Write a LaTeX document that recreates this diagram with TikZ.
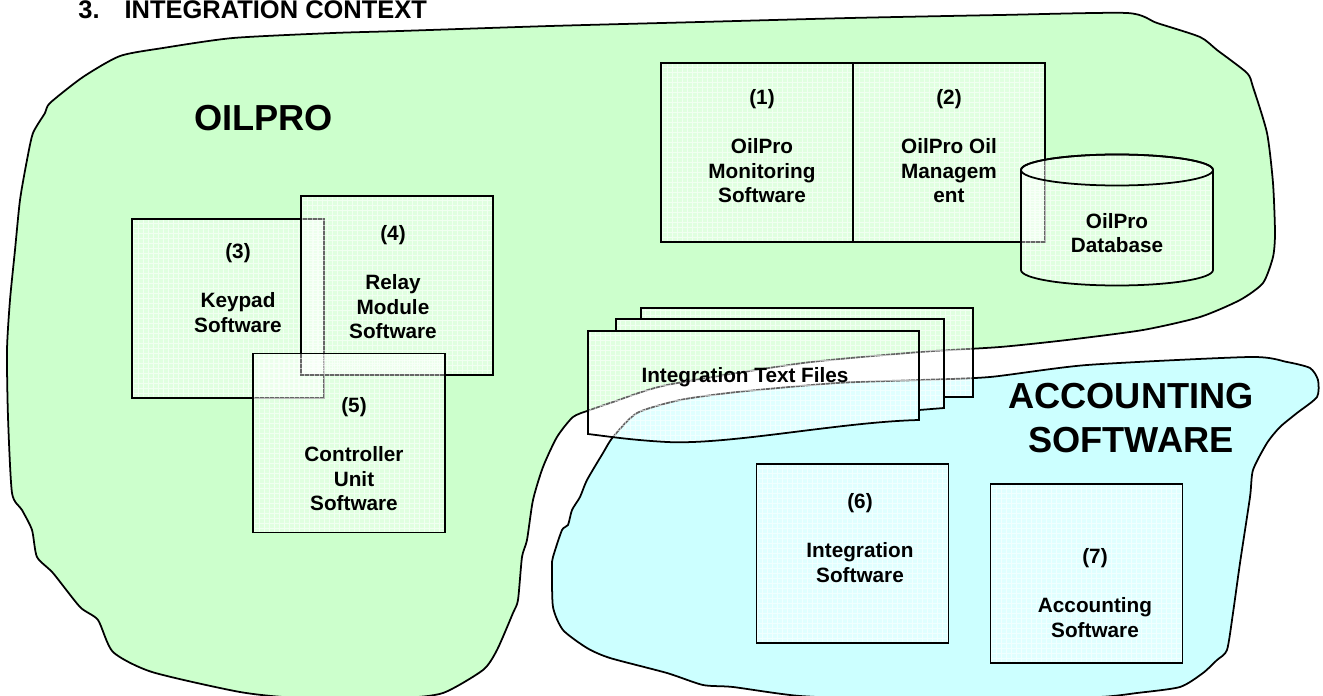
\documentclass[tikz,border=0pt]{standalone}
\usepackage{fontspec}
\setmainfont{Liberation Sans}
\usetikzlibrary{positioning}
\definecolor{oilgreen}{HTML}{CCFFCC}
\definecolor{acccyan}{HTML}{CCFFFF}
\tikzset{
  blob/.style={draw=black, line width=1pt},
  gridtex/.style={path picture={
      \draw[white, opacity=.55, line width=.25pt]
        (path picture bounding box.south west) grid[step=.1cm]
        (path picture bounding box.north east);
    }},
  sheet/.style={draw=black, line width=1pt, fill=white, fill opacity=.4, gridtex},
  swbox/.style={sheet, rectangle, inner sep=0pt,
    minimum width=3.84cm, minimum height=3.58cm},
  lbl/.style={align=center, inner sep=0pt, anchor=north,
    font=\fontsize{11.8}{14}\selectfont\bfseries},
  region/.style={align=center, inner sep=0pt, anchor=north,
    font=\fontsize{20.6}{25}\selectfont\bfseries}
}
\begin{document}
\begin{tikzpicture}[x=0.02cm, y=-0.02cm]
  \useasboundingbox (0,0) rectangle (1323,696);

  % OILPRO area
  \filldraw[blob, fill=oilgreen] plot[smooth cycle, tension=.4] coordinates {
    (120,56) (163,48) (233,38) (333,33) (400,31) (550,26) (700,22) (850,18)
    (1000,15) (1127,13) (1157,23) (1200,37) (1217,50) (1247,73) (1253,87)
    (1267,133) (1273,183) (1275,233) (1273,257) (1263,283) (1240,300)
    (1200,317) (1143,330) (1067,340) (1000,347) (920,352) (803,363)
    (667,385) (613,402) (590,410) (573,417) (557,437) (543,467) (533,500)
    (527,540) (522,557) (518,600) (513,613) (497,650) (483,670) (443,693)
    (400,698) (300,698) (240,692) (152,672) (113,652) (98,620) (80,607)
    (53,573) (37,557) (32,530) (22,510) (12,493) (8,417) (7,350) (10,300)
    (15,250) (20,200) (27,160) (33,133) (45,113) (50,103) (83,77)};

  % accounting area
  \filldraw[blob, fill=acccyan] plot[smooth cycle, tension=.4] coordinates {
    (613,437) (637,413) (680,400) (737,392) (837,383) (920,380) (990,377)
    (1087,365) (1250,357) (1287,362) (1310,368) (1318,380) (1317,397)
    (1297,413) (1280,427) (1267,443) (1253,470) (1250,497) (1240,563)
    (1233,613) (1227,650) (1217,660) (1203,673) (1180,687) (1137,693)
    (1100,697) (1000,700) (900,700) (800,696) (733,687) (703,685) (667,673)
    (610,658) (587,648) (563,630) (553,607) (552,567) (553,557) (562,530)
    (568,525) (572,510) (580,497) (587,480) (603,453)};

  \node[anchor=base west, inner sep=0pt, font=\fontsize{14.5}{16}\selectfont\bfseries]
    (title) at (78,19) {3.\hspace{0.5cm}INTEGRATION CONTEXT};
  \node[region] (oilpro) at (263.5,105) {OILPRO};
  \node[region] (acct) at (1131,383) {ACCOUNTING\\SOFTWARE};

  % software boxes
  \node[swbox] (b1) at (757,152.5) {};
  \node[swbox] (b2) at (949,152.5) {};

  % database
  \filldraw[sheet] (1021,170) -- (1021,270)
    arc[start angle=180, end angle=0, x radius=96, y radius=15.5] -- (1213,170)
    arc[start angle=0, end angle=-180, x radius=96, y radius=15.5] -- cycle;
  \draw[line width=1pt] (1117,170) ellipse[x radius=96, y radius=15.5];

  \node[swbox] (b3) at (228,308.5) {};
  \node[swbox] (b4) at (397,285.5) {};
  \node[swbox] (b5) at (349,443) {};

  % integration text files
  \filldraw[sheet] (641,319) -- (641,308) -- (973,308) -- (973,397) -- (944,397) -- (944,319) -- cycle;
  \filldraw[sheet] (616,331) -- (616,319) -- (944,319) -- (944,408) -- (919,410) -- (919,331) -- cycle;
  \filldraw[sheet] (588,434) -- (588,331) -- (919,331) -- (919,420)
    .. controls (840,422) and (730,445) .. (667,442)
    .. controls (630,440) and (605,436) .. (588,434) -- cycle;

  \node[swbox] (b6) at (852.5,553.5) {};
  \node[swbox] (b7) at (1086.5,573.5) {};

  % texts
  \node[lbl] (t1) at (762,89) {(1)\\[14pt]OilPro\\Monitoring\\Software};
  \node[lbl] (t2) at (949,89) {(2)\\[14pt]OilPro Oil\\Managem\\ent};
  \node[lbl] (tdb) at (1117,213) {OilPro\\Database};
  \node[lbl] (t3) at (238,243) {(3)\\[14pt]Keypad\\Software};
  \node[lbl] (t4) at (393,225) {(4)\\[14pt]Relay\\Module\\Software};
  \node[lbl] (t5) at (354,397) {(5)\\[14pt]Controller\\Unit\\Software};
  \node[lbl] (tfiles) at (745,367) {Integration Text Files};
  \node[lbl] (t6) at (860,493) {(6)\\[14pt]Integration\\Software};
  \node[lbl] (t7) at (1095,548) {(7)\\[14pt]Accounting\\Software};
\end{tikzpicture}
\end{document}
